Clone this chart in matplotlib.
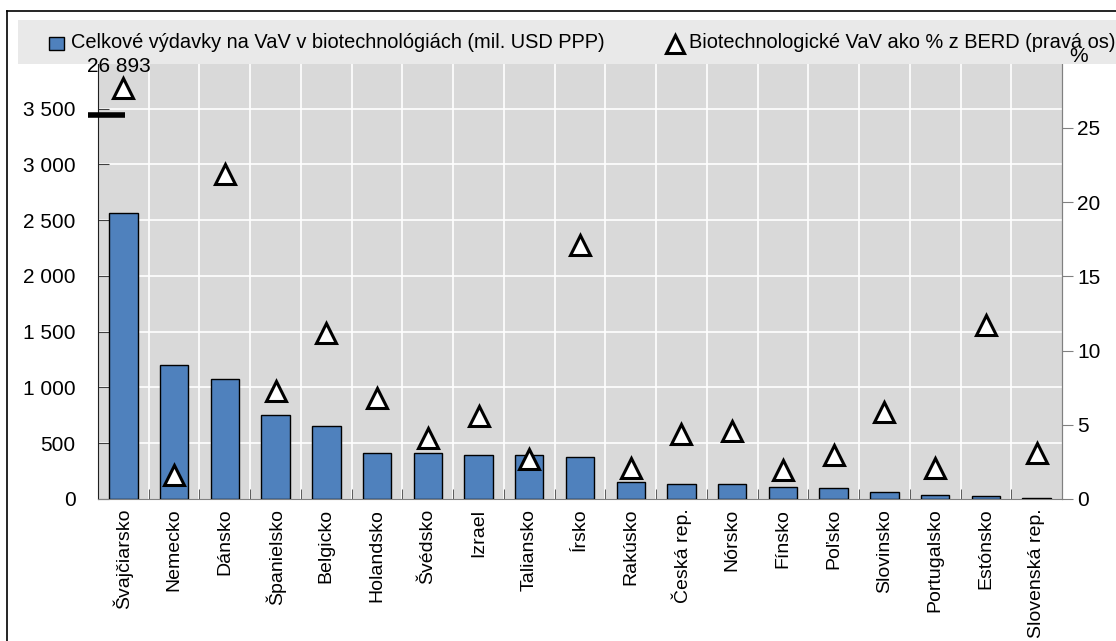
import matplotlib
matplotlib.use('Agg')
import matplotlib.pyplot as plt
from matplotlib.patches import Rectangle
from matplotlib.lines import Line2D

plt.rcParams['font.family'] = ['Liberation Sans', 'DejaVu Sans']

krajiny = ['Švajčiarsko', 'Nemecko', 'Dánsko', 'Španielsko', 'Belgicko', 'Holandsko',
           'Švédsko', 'Izrael', 'Taliansko', 'Írsko', 'Rakúsko', 'Česká rep.', 'Nórsko',
           'Fínsko', 'Poľsko', 'Slovinsko', 'Portugalsko', 'Estónsko', 'Slovenská rep.']
vydavky = [2565, 1200, 1078, 755, 658, 415, 410, 398, 398, 380, 155, 137, 137,
           108, 98, 65, 35, 25, 8]
podiel_berd = [27.7, 1.6, 21.9, 7.3, 11.2, 6.8, 4.1, 5.6, 2.7, 17.1, 2.1, 4.4, 4.6,
               1.95, 2.95, 5.85, 2.1, 11.7, 3.1]
zlom_hodnota = 3440
zlom_text = '26 893'

ylave = [0, 500, 1000, 1500, 2000, 2500, 3000, 3500]
ylave_txt = ['0', '500', '1 000', '1 500', '2 000', '2 500', '3 000', '3 500']
ypravo = [0, 5, 10, 15, 20, 25]

W, H = 1116, 641
fig = plt.figure(figsize=(W / 100, H / 100), dpi=100)
fig.patch.set_facecolor('white')

# legend band
fig.patches.append(Rectangle((18 / W, 1 - 64 / H), 1 - 18 / W, 44 / H,
                             transform=fig.transFigure, facecolor='#e9e9e9',
                             edgecolor='none', zorder=0))
# outer frame
fig.add_artist(Line2D([7 / W, 1], [1 - 11 / H, 1 - 11 / H], color='black', lw=1.2))
fig.add_artist(Line2D([7 / W, 7 / W], [0, 1 - 11 / H], color='black', lw=1.2))

ax = fig.add_axes([98 / W, 1 - 499 / H, (1062 - 98) / W, (499 - 64) / H])
ax.set_facecolor('#d9d9d9')
x = list(range(len(krajiny)))

ax.bar(x, vydavky, width=0.56, color='#4f81bd', edgecolor='black', linewidth=1, zorder=3)
ax.set_xlim(-0.5, len(krajiny) - 0.5)
ax.set_ylim(0, 3900)
ax.set_yticks(ylave)
ax.set_yticklabels(ylave_txt, fontsize=15)
ax.set_xticks(x)
ax.set_xticklabels(krajiny, rotation=90, fontsize=14, va='top', ha='center')
ax.tick_params(axis='x', length=0, pad=7)
ax.tick_params(axis='y', direction='in', length=8, color='#404040', pad=16)
ax.set_xticks([i + 0.5 for i in x[:-1]], minor=True)
ax.tick_params(axis='x', which='minor', direction='in', length=7, color='#404040')

for yv in ylave[1:]:
    ax.axhline(yv, color='white', lw=1.2, zorder=1)
for xv in [i + 0.5 for i in x[:-1]]:
    ax.axvline(xv, color='white', lw=1.2, zorder=1)

ax.spines['top'].set_visible(False)
ax.spines['left'].set_color('#202020')
ax.spines['bottom'].set_color('#808080')
ax.spines['right'].set_color('#808080')

# break marker on first bar
ax.plot([-0.69, 0.04], [zlom_hodnota, zlom_hodnota], color='black', lw=4,
        solid_capstyle='butt', clip_on=False, zorder=5)

ax2 = ax.twinx()
ax2.set_ylim(0, 29.3)
ax2.set_yticks(ypravo)
ax2.tick_params(axis='y', labelsize=15, length=8, color='#808080', pad=3)
ax2.plot(x, podiel_berd, linestyle='none', marker='^', markersize=15,
         markerfacecolor='white', markeredgecolor='black', markeredgewidth=2.2,
         zorder=5, clip_on=False)
for s in ['top', 'left', 'bottom']:
    ax2.spines[s].set_visible(False)
ax2.spines['right'].set_color('#808080')

fig.text(119 / W, 1 - 67 / H, zlom_text, ha='center', va='center', fontsize=15, zorder=10)
fig.text(1079 / W, 1 - 57 / H, '%', ha='center', va='center', fontsize=15, zorder=10)

# legend
fig.patches.append(Rectangle((49 / W, 1 - 50 / H), 15 / W, 13 / H,
                             transform=fig.transFigure, facecolor='#4f81bd',
                             edgecolor='black', lw=1))
fig.text(71 / W, 1 - 43 / H, 'Celkové výdavky na VaV v biotechnológiách (mil. USD PPP)',
         ha='left', va='center', fontsize=14.4)
fig.add_artist(Line2D([675 / W], [1 - 44 / H], marker='^', markersize=13,
                      markerfacecolor='white', markeredgecolor='black',
                      markeredgewidth=2.2, linestyle='none'))
fig.text(689 / W, 1 - 43 / H, 'Biotechnologické VaV ako % z BERD (pravá os)',
         ha='left', va='center', fontsize=14.4)

fig.savefig('out.png', dpi=100)
